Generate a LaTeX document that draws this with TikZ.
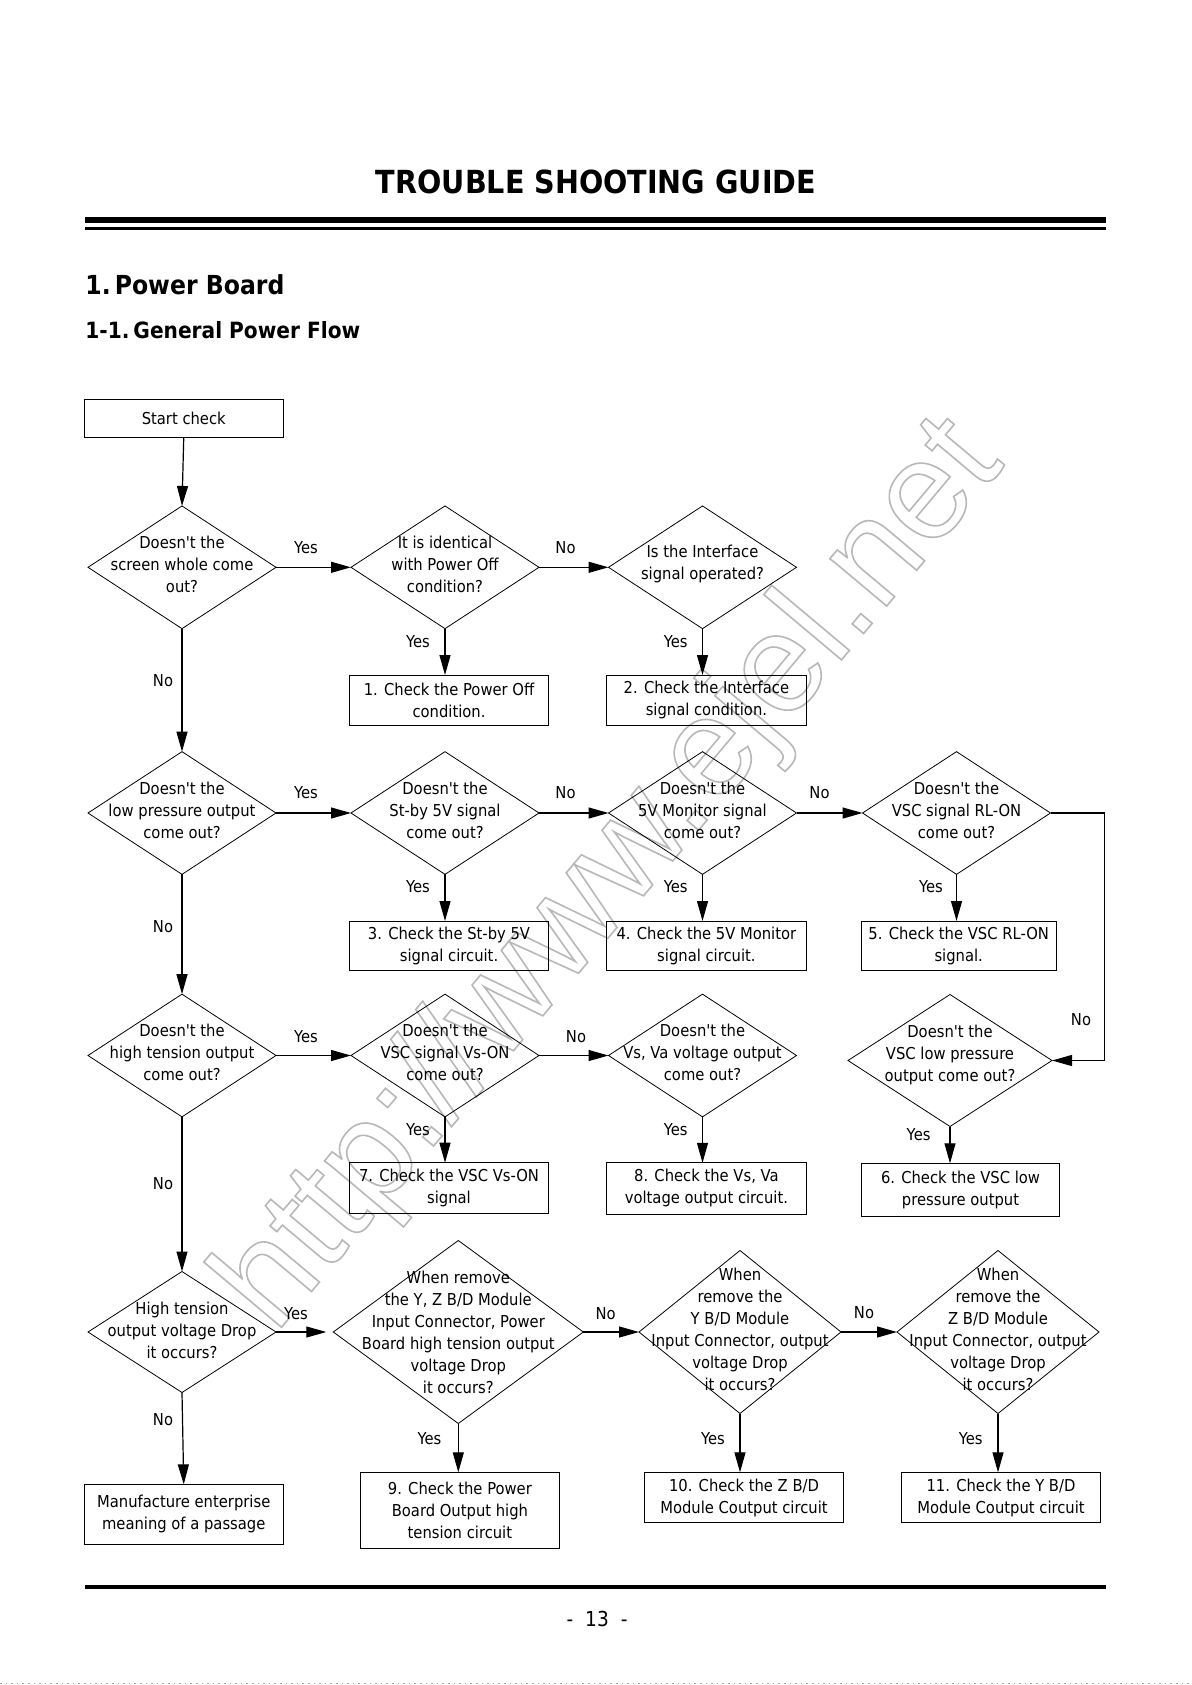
\documentclass[tikz,border=0pt]{standalone}
\usepackage{fontspec}
\usetikzlibrary{arrows.meta,shapes.geometric}
\newfontfamily\bodyf{DejaVu Sans}[FakeStretch=0.9]
\newfontfamily\wmf{Liberation Sans}
\newcommand\bodyfont{\bodyf\fontsize{8.2}{11}\selectfont}
\definecolor{wmgray}{gray}{0.72}
\begin{document}
\begin{tikzpicture}[x=0.5pt,y=-0.5pt,
  box/.style={draw, line width=0.5pt, rectangle, inner sep=0pt, outer sep=0pt, align=center, font=\bodyfont},
  dia/.style={draw, line width=0.4pt, diamond, inner sep=0pt, outer sep=0pt},
  dtext/.style={font=\bodyfont, align=center, inner sep=0pt},
  lab/.style={font=\bodyfont, inner sep=0pt},
  arr/.style={line width=0.6pt, -{Triangle[length=10pt,width=5.5pt]}},
  ln/.style={line width=0.6pt}]
% page
\fill[white] (0,0) rectangle (1192,1685);
\useasboundingbox (0,0) rectangle (1192,1685);
% watermark
\node[font=\wmf\fontsize{70}{70}\selectfont, text=wmgray, rotate=50, anchor=base west, inner sep=0pt] (wm) at (275,1335)
  {\special{pdf:literal direct 1 Tr 0.8 w}http://www.ejel.net\special{pdf:literal direct 0 Tr}};
% header
\node[font=\bodyf\bfseries\fontsize{15.9}{18}\selectfont, anchor=base, inner sep=0pt] (title) at (596,194) {TROUBLE SHOOTING GUIDE};
\fill (85,217.3) rectangle (1106,222.7);
\fill (85,227.3) rectangle (1106,230);
\node[font=\bodyf\bfseries\fontsize{13.1}{15}\selectfont, anchor=base west, inner sep=0pt] (h1) at (85,294) {1.\hspace{2pt}Power Board};
\node[font=\bodyf\bfseries\fontsize{11.2}{13}\selectfont, anchor=base west, inner sep=0pt] (h2) at (85,338.3) {1-1.\hspace{2pt}General Power Flow};
% footer
\fill (85,1585) rectangle (1106,1589);
\node[font=\bodyf\fontsize{10.3}{12}\selectfont, anchor=base, inner sep=0pt] (pg) at (597,1626.7) {-\hspace{6pt}13\hspace{6pt}-};
\draw[dotted, line width=0.8pt, gray!70] (0,1683.5) -- (1192,1683.5);

% ---------- boxes ----------
\node[box, minimum width=99.5pt, minimum height=19pt] (start) at (183.75,418.3) {Start check};
\node[box, minimum width=99.6pt, minimum height=25pt] (b1) at (449,700) {1. Check the Power Off\\condition.};
\node[box, minimum width=100pt, minimum height=25pt] (b2) at (706.4,700) {2. Check the Interface\\signal condition.};
\node[box, minimum width=99.6pt, minimum height=24.85pt] (b3) at (449,945.85) {3. Check the St-by 5V\\signal circuit.};
\node[box, minimum width=100pt, minimum height=24.85pt] (b4) at (706.4,945.85) {4. Check the 5V Monitor\\signal circuit.};
\node[box, minimum width=97.3pt, minimum height=24.85pt] (b5) at (958.7,945.85) {5. Check the VSC RL-ON\\signal.};
\node[box, minimum width=99.1pt, minimum height=26.7pt] (b6) at (960.5,1190) {6. Check the VSC low\\pressure output};
\node[box, minimum width=99.6pt, minimum height=25.3pt] (b7) at (449,1188) {7. Check the VSC Vs-ON\\signal};
\node[box, minimum width=100pt, minimum height=25.6pt] (b8) at (706.4,1188.4) {8. Check the Vs, Va\\voltage output circuit.};
\node[box, minimum width=99.5pt, minimum height=38pt] (b9) at (459.9,1510.3) {9. Check the Power\\Board Output high\\tension circuit};
\node[box, minimum width=99.6pt, minimum height=25.2pt] (b10) at (744,1497.5) {10. Check the Z B/D\\Module Coutput circuit};
\node[box, minimum width=99.6pt, minimum height=25.2pt] (b11) at (1001,1497.5) {11. Check the Y B/D\\Module Coutput circuit};
\node[box, minimum width=99.5pt, minimum height=29.85pt] (bm) at (183.75,1514.2) {Manufacture enterprise\\meaning of a passage};

% ---------- diamonds ----------
\node[dia, minimum width=94pt, minimum height=61.35pt] (d1) at (182,567.3) {};
\node[dia, minimum width=94pt, minimum height=61.35pt] (d2) at (445,567.3) {};
\node[dia, minimum width=94pt, minimum height=61.35pt] (d3) at (702.5,567.3) {};
\node[dia, minimum width=94pt, minimum height=61.35pt] (d4) at (182,813) {};
\node[dia, minimum width=94pt, minimum height=61.35pt] (d5) at (445,813) {};
\node[dia, minimum width=94pt, minimum height=61.35pt] (d6) at (702.5,813) {};
\node[dia, minimum width=94pt, minimum height=61.35pt] (d7) at (956.5,813) {};
\node[dia, minimum width=94pt, minimum height=61.35pt] (d8) at (182,1055.5) {};
\node[dia, minimum width=94pt, minimum height=61.35pt] (d9) at (445,1055.5) {};
\node[dia, minimum width=94pt, minimum height=61.35pt] (d10) at (702.5,1055.5) {};
\node[dia, minimum width=102pt, minimum height=66pt] (d11) at (950,1060.5) {};
\node[dia, minimum width=94pt, minimum height=60.5pt] (d12) at (182,1332) {};
\node[dia, minimum width=125pt, minimum height=91.5pt] (d13) at (458.3,1332) {};
\node[dia, minimum width=101pt, minimum height=81.5pt] (d14) at (740,1332) {};
\node[dia, minimum width=101pt, minimum height=81.5pt] (d15) at (998,1332) {};

% diamond texts
\node[dtext] (t1) at ([yshift=1.5pt]d1.center) {Doesn't the\\screen whole come\\out?};
\node[dtext] (t2) at ([yshift=1.5pt]d2.center) {It is identical\\with Power Off\\condition?};
\node[dtext] (t3) at ([yshift=1.5pt]d3.center) {Is the Interface\\signal operated?};
\node[dtext] (t4) at ([yshift=1.5pt]d4.center) {Doesn't the\\low pressure output\\come out?};
\node[dtext] (t5) at ([yshift=1.5pt]d5.center) {Doesn't the\\St-by 5V signal\\come out?};
\node[dtext] (t6) at ([yshift=1.5pt]d6.center) {Doesn't the\\5V Monitor signal\\come out?};
\node[dtext] (t7) at ([yshift=1.5pt]d7.center) {Doesn't the\\VSC signal RL-ON\\come out?};
\node[dtext] (t8) at ([yshift=1.5pt]d8.center) {Doesn't the\\high tension output\\come out?};
\node[dtext] (t9) at ([yshift=1.5pt]d9.center) {Doesn't the\\VSC signal Vs-ON\\come out?};
\node[dtext] (t10) at ([yshift=1.5pt]d10.center) {Doesn't the\\Vs, Va voltage output\\come out?};
\node[dtext] (t11) at ([yshift=3pt]d11.center) {Doesn't the\\VSC low pressure\\output come out?};
\node[dtext] (t12) at ([yshift=1pt]d12.center) {High tension\\output voltage Drop\\it occurs?};
\node[dtext] (t13) at (d13.center) {When remove\\the Y, Z B/D Module\\Input Connector, Power\\Board high tension output\\voltage Drop\\it occurs?};
\node[dtext] (t14) at ([yshift=1.5pt]d14.center) {When\\remove the\\Y B/D Module\\Input Connector, output\\voltage Drop\\it occurs?};
\node[dtext] (t15) at ([yshift=1.5pt]d15.center) {When\\remove the\\Z B/D Module\\Input Connector, output\\voltage Drop\\it occurs?};

% ---------- connectors ----------
% left column
\draw[arr] (start.south) -- (d1.north);
\draw[arr] (d1.south) -- (d4.north);
\draw[arr] (d4.south) -- (d8.north);
\draw[arr] (d8.south) -- (d12.north);
\draw[arr] (d12.south) -- (bm.north);
% row 1
\draw[arr] (d1.east) -- (d2.west);
\draw[arr] (d2.east) -- (d3.west);
\draw[arr] (d2.south) -- (d2.south |- b1.north);
\draw[arr] (d3.south) -- (d3.south |- b2.north);
% row 2
\draw[arr] (d4.east) -- (d5.west);
\draw[arr] (d5.east) -- (d6.west);
\draw[arr] (d6.east) -- (d7.west);
\draw[arr] (d5.south) -- (d5.south |- b3.north);
\draw[arr] (d6.south) -- (d6.south |- b4.north);
\draw[arr] (d7.south) -- (d7.south |- b5.north);
\coordinate (r1) at (1104.3,813);
\coordinate (r2) at (1104.3,1060.5);
\draw[arr] (d7.east) -- (r1) -- (r2) -- (d11.east);
% row 3
\draw[arr] (d8.east) -- (d9.west);
\draw[arr] (d9.east) -- (d10.west);
\draw[arr] (d9.south) -- (d9.south |- b7.north);
\draw[arr] (d10.south) -- (d10.south |- b8.north);
\draw[arr] (d11.south) -- (d11.south |- b6.north);
% row 4
\draw[arr] (d12.east) -- ([xshift=-3.5pt]d13.west);
\draw[arr] (d13.east) -- (d14.west);
\draw[arr] (d14.east) -- (d15.west);
\draw[arr] (d13.south) -- (d13.south |- b9.north);
\draw[arr] (d14.south) -- (d14.south |- b10.north);
\draw[arr] (d15.south) -- (d15.south |- b11.north);

% ---------- labels ----------
\node[lab] (l1) at (306,548) {Yes};
\node[lab] (l2) at (565.5,548) {No};
\node[lab] (l3) at (418,641.7) {Yes};
\node[lab] (l4) at (675.7,641.7) {Yes};
\node[lab] (l5) at (163,681) {No};
\node[lab] (l6) at (306,793) {Yes};
\node[lab] (l7) at (565.5,793) {No};
\node[lab] (l8) at (819.5,793) {No};
\node[lab] (l9) at (418,886.7) {Yes};
\node[lab] (l10) at (675.7,886.7) {Yes};
\node[lab] (l11) at (931,886.7) {Yes};
\node[lab] (l12) at (163,926.7) {No};
\node[lab] (l13) at (306,1036.7) {Yes};
\node[lab] (l14) at (576,1036.7) {No};
\node[lab] (l15) at (1081,1020) {No};
\node[lab] (l16) at (418,1130) {Yes};
\node[lab] (l17) at (675.7,1130) {Yes};
\node[lab] (l18) at (918.6,1135) {Yes};
\node[lab] (l19) at (163,1183.3) {No};
\node[lab] (l20) at (296,1313.3) {Yes};
\node[lab] (l21) at (605.7,1313.3) {No};
\node[lab] (l22) at (864,1312.7) {No};
\node[lab] (l23) at (163,1420) {No};
\node[lab] (l24) at (429.5,1439) {Yes};
\node[lab] (l25) at (713,1439) {Yes};
\node[lab] (l26) at (970.7,1439) {Yes};
\end{tikzpicture}
\end{document}
